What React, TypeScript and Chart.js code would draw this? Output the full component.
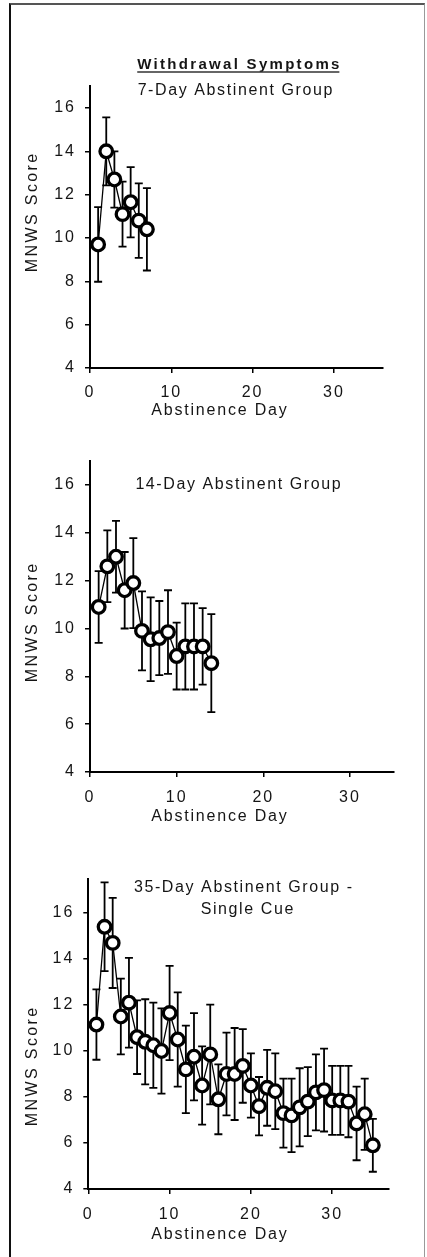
import React, { useEffect, useRef } from "react";
import { Chart, registerables } from "chart.js";

Chart.register(...registerables);

// ---------------- DATA ----------------
const days7 = [1, 2, 3, 4, 5, 6, 7];
const mnws7 = [9.7, 14.0, 12.7, 11.1, 11.65, 10.8, 10.4];
const sem7 = [1.72, 1.57, 1.3, 1.5, 1.62, 1.72, 1.9];

const days14 = [1, 2, 3, 4, 5, 6, 7, 8, 9, 10, 11, 12, 13, 14];
const mnws14 = [10.9, 12.6, 13.0, 11.6, 11.9, 9.9, 9.55, 9.6, 9.85, 8.85, 9.25, 9.25, 9.25, 8.55];
const sem14 = [1.5, 1.5, 1.5, 1.6, 1.88, 1.65, 1.75, 1.55, 1.75, 1.4, 1.8, 1.8, 1.6, 2.05];

const days35 = [
  1, 2, 3, 4, 5, 6, 7, 8, 9, 10, 11, 12, 13, 14, 15, 16, 17, 18,
  19, 20, 21, 22, 23, 24, 25, 26, 27, 28, 29, 30, 31, 32, 33, 34, 35,
];
const mnws35 = [
  11.15, 15.4, 14.7, 11.5, 12.1, 10.6, 10.4, 10.25, 10.0, 11.65, 10.5, 9.2,
  9.75, 8.5, 9.85, 7.9, 9.0, 9.0, 9.35, 8.5, 7.6, 8.4, 8.25, 7.3, 7.2, 7.55,
  7.8, 8.2, 8.3, 7.85, 7.85, 7.8, 6.85, 7.25, 5.9,
];
const sem35 = [
  1.53, 1.93, 1.96, 1.65, 1.95, 1.6, 1.85, 1.85, 1.85, 2.05, 2.05, 1.9, 1.9,
  1.7, 2.17, 1.52, 1.8, 2.0, 1.6, 1.4, 1.27, 1.65, 1.65, 1.5, 1.6, 1.7, 1.5,
  1.65, 1.8, 1.5, 1.5, 1.55, 1.6, 1.55, 1.15,
];

const xTickValues = [0, 10, 20, 30];
const yTickValues = [4, 6, 8, 10, 12, 14, 16];

const xTitle = "Abstinence Day";
const yTitle = "MNWS Score";
const mainTitle = "Withdrawal Symptoms";
const title7 = ["7-Day Abstinent Group"];
const title14 = ["14-Day Abstinent Group"];
const title35 = ["35-Day Abstinent Group -", "Single Cue"];

// ---------------- STYLE ----------------
const FONT = '"Liberation Sans", Arial, Helvetica, sans-serif';
const INK = "#151515";

const letterSpacingPlugin = {
  id: "letterSpacing",
  beforeDraw(chart: any, _args: any, opts: any) {
    chart.ctx.letterSpacing = (opts && opts.spacing) || "0px";
  },
};

const errorBarPlugin = {
  id: "errorBars",
  beforeDatasetsDraw(chart: any, _args: any, opts: any) {
    const { ctx, scales } = chart;
    const xs = scales.x;
    const ys = scales.y;
    const pts = chart.data.datasets[0].data as { x: number; y: number }[];
    const errs: number[] = opts.errors || [];
    const cap = opts.cap ?? 4;
    ctx.save();
    ctx.strokeStyle = "#000";
    ctx.lineWidth = opts.lineWidth ?? 1.5;
    pts.forEach((p, i) => {
      const e = errs[i] ?? 0;
      const px = xs.getPixelForValue(p.x);
      const top = ys.getPixelForValue(p.y + e);
      const bot = ys.getPixelForValue(p.y - e);
      ctx.beginPath();
      ctx.moveTo(px, top);
      ctx.lineTo(px, bot);
      ctx.moveTo(px - cap, top);
      ctx.lineTo(px + cap, top);
      ctx.moveTo(px - cap, bot);
      ctx.lineTo(px + cap, bot);
      ctx.stroke();
    });
    ctx.restore();
  },
};

const panelTextPlugin = {
  id: "panelText",
  afterDraw(chart: any, _args: any, opts: any) {
    const ctx = chart.ctx;
    for (const it of (opts && opts.items) || []) {
      const sp = it.spacing || 0;
      ctx.save();
      ctx.font = `${it.weight || "normal"} ${it.size}px ${FONT}`;
      ctx.fillStyle = INK;
      ctx.letterSpacing = `${sp}px`;
      ctx.textAlign = "center";
      ctx.textBaseline = "middle";
      ctx.translate(it.x, it.y);
      if (it.rotate) ctx.rotate(it.rotate);
      ctx.fillText(it.text, sp / 2, 0);
      if (it.underline) {
        const w = ctx.measureText(it.text).width - sp;
        ctx.strokeStyle = "#333";
        ctx.lineWidth = 1.5;
        ctx.beginPath();
        ctx.moveTo(-w / 2, it.underline);
        ctx.lineTo(w / 2, it.underline);
        ctx.stroke();
      }
      ctx.restore();
    }
  },
};

type TextItem = {
  text: string;
  x: number;
  y: number;
  size: number;
  spacing: number;
  weight?: string;
  rotate?: number;
  underline?: number;
};

type PanelCfg = {
  top: number;
  height: number;
  padTop: number;
  padRight: number;
  yWidth: number;
  xHeight: number;
  xMax: number;
  yMax: number;
  xTickPad: number;
  days: number[];
  values: number[];
  errors: number[];
  texts: TextItem[];
};

function subtitleItems(lines: string[], x: number, y: number, dx: number, dy: number): TextItem[] {
  return lines.map((t, i) => ({ text: t, x: x + i * dx, y: y + i * dy, size: 16, spacing: 1.6 }));
}

const panels: PanelCfg[] = [
  {
    top: 0,
    height: 425,
    padTop: 86.3,
    padRight: 44.3,
    yWidth: 90,
    xHeight: 57,
    xMax: 36,
    yMax: 17,
    xTickPad: 9.5,
    days: days7,
    values: mnws7,
    errors: sem7,
    texts: [
      { text: mainTitle, x: 238.3, y: 64.5, size: 15, weight: "bold", spacing: 2.3, underline: 7.4 },
      ...subtitleItems(title7, 235, 91, 0, 0),
      { text: yTitle, x: 32.5, y: 213, size: 16, spacing: 2.4, rotate: -Math.PI / 2 },
      { text: xTitle, x: 219, y: 411, size: 16, spacing: 1.8 },
    ],
  },
  {
    top: 425,
    height: 405,
    padTop: 36.1,
    padRight: 33.7,
    yWidth: 90,
    xHeight: 58,
    xMax: 35,
    yMax: 17,
    xTickPad: 10.5,
    days: days14,
    values: mnws14,
    errors: sem14,
    texts: [
      ...subtitleItems(title14, 238, 59.5, 0, 0),
      { text: yTitle, x: 32.5, y: 198, size: 16, spacing: 2.4, rotate: -Math.PI / 2 },
      { text: xTitle, x: 219, y: 392, size: 16, spacing: 1.8 },
    ],
  },
  {
    top: 830,
    height: 427,
    padTop: 48.5,
    padRight: 37.9,
    yWidth: 88.3,
    xHeight: 68,
    xMax: 37,
    yMax: 17.5,
    xTickPad: 10.5,
    days: days35,
    values: mnws35,
    errors: sem35,
    texts: [
      ...subtitleItems(title35, 243, 58, 4, 22),
      { text: yTitle, x: 32.5, y: 237, size: 16, spacing: 2.4, rotate: -Math.PI / 2 },
      { text: xTitle, x: 219, y: 404.5, size: 16, spacing: 1.8 },
    ],
  },
];

function Panel({ cfg }: { cfg: PanelCfg }) {
  const ref = useRef<HTMLCanvasElement | null>(null);

  useEffect(() => {
    if (!ref.current) return;
    const tickFont = { family: FONT, size: 16 };
    const axisCommon = {
      grid: {
        display: true,
        drawOnChartArea: false,
        drawTicks: true,
        tickLength: 5,
        color: "#000",
        lineWidth: 1.5,
      },
      border: { display: true, color: "#000", width: 2 },
    };
    const chart = new Chart(ref.current, {
      type: "line",
      data: {
        datasets: [
          {
            data: cfg.days.map((d, i) => ({ x: d, y: cfg.values[i] })),
            borderColor: "#000",
            borderWidth: 1.3,
            pointRadius: 6.3,
            pointBorderWidth: 3.3,
            pointBackgroundColor: "#fff",
            pointBorderColor: "#000",
            pointStyle: "circle",
            tension: 0,
            clip: false as any,
          },
        ],
      },
      options: {
        animation: false,
        responsive: false,
        events: [],
        layout: {
          padding: { top: cfg.padTop, right: cfg.padRight, left: 0, bottom: 0 },
        },
        plugins: {
          legend: { display: false },
          tooltip: { enabled: false },
          letterSpacing: { spacing: "2px" },
          errorBars: { errors: cfg.errors, cap: 4, lineWidth: 1.8 },
          panelText: { items: cfg.texts },
        } as any,
        scales: {
          x: {
            type: "linear",
            min: 0,
            max: cfg.xMax,
            ...axisCommon,
            afterBuildTicks: (s: any) => {
              s.ticks = xTickValues.map((v) => ({ value: v }));
            },
            afterFit: (s: any) => {
              s.height = cfg.xHeight;
            },
            ticks: {
              color: INK,
              font: tickFont,
              padding: cfg.xTickPad,
              maxRotation: 0,
              autoSkip: false,
            },
          },
          y: {
            type: "linear",
            min: 4,
            max: cfg.yMax,
            ...axisCommon,
            afterBuildTicks: (s: any) => {
              s.ticks = yTickValues.map((v) => ({ value: v }));
            },
            afterFit: (s: any) => {
              s.width = cfg.yWidth;
            },
            ticks: {
              color: INK,
              font: tickFont,
              padding: 9,
              autoSkip: false,
            },
          },
        },
      },
      plugins: [letterSpacingPlugin, errorBarPlugin, panelTextPlugin],
    });
    return () => chart.destroy();
  }, [cfg]);

  return (
    <canvas
      ref={ref}
      width={427}
      height={cfg.height}
      style={{
        position: "absolute",
        left: 0,
        top: cfg.top,
        width: 427,
        height: cfg.height,
      }}
    />
  );
}

export default function App() {
  return (
    <div
      style={{
        position: "absolute",
        left: 0,
        top: 0,
        width: 427,
        height: 1257,
        background: "#fff",
        overflow: "hidden",
      }}
    >
      <div
        style={{
          position: "absolute",
          left: 9,
          top: 3,
          width: 413,
          height: 1260,
          borderTop: "2px solid #555",
          borderLeft: "2px solid #111",
          borderRight: "1px solid #999",
        }}
      />
      {panels.map((p, i) => (
        <Panel key={i} cfg={p} />
      ))}
    </div>
  );
}
